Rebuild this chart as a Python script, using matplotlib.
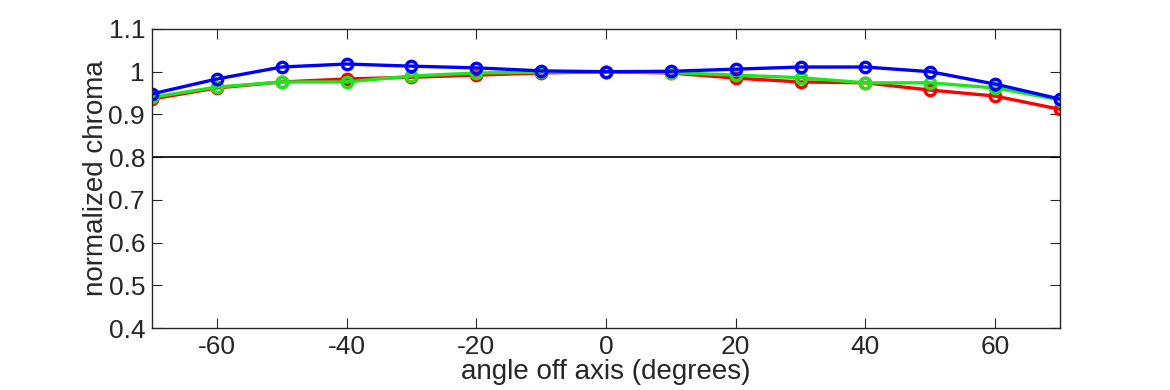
import matplotlib
matplotlib.use("Agg")
import matplotlib.pyplot as plt

angles = [-70, -60, -50, -40, -30, -20, -10, 0, 10, 20, 30, 40, 50, 60, 70]
red = [0.936, 0.962, 0.976, 0.983, 0.987, 0.992, 0.997, 1.0, 0.997, 0.985, 0.976, 0.974, 0.957, 0.943, 0.912]
green = [0.940, 0.964, 0.976, 0.976, 0.990, 0.997, 0.999, 1.0, 0.998, 0.992, 0.986, 0.974, 0.974, 0.962, 0.934]
blue = [0.948, 0.983, 1.011, 1.018, 1.013, 1.009, 1.002, 1.0, 1.001, 1.006, 1.011, 1.011, 1.0, 0.971, 0.936]
xticks = [-60, -40, -20, 0, 20, 40, 60]
xtick_labels = ["-60", "-40", "-20", "0", "20", "40", "60"]
yticks = [0.4, 0.5, 0.6, 0.7, 0.8, 0.9, 1.0, 1.1]
ytick_labels = ["0.4", "0.5", "0.6", "0.7", "0.8", "0.9", "1", "1.1"]

plt.rcParams['font.family'] = ['Liberation Sans', 'DejaVu Sans']
fig = plt.figure(figsize=(11.7, 3.9), dpi=100)
ax = fig.add_axes([152/1170, 1 - 328/390, (1060-152)/1170, (328-29)/390])

ax.axhline(0.8, color='black', linewidth=1.2)
for vals, col in [(red, '#ff0000'), (green, '#1ee61e'), (blue, '#0000ff')]:
    ax.plot(angles, vals, color=col, linewidth=2.4, marker='o', markersize=7.5,
            markerfacecolor='none', markeredgewidth=2.4)

ax.set_xlim(-70, 70)
ax.set_ylim(0.4, 1.1)
ax.set_xticks(xticks)
ax.set_xticklabels(xtick_labels)
ax.set_yticks(yticks)
ax.set_yticklabels(ytick_labels)
ax.tick_params(direction='in', top=True, right=True, labelsize=19, length=7, colors='#262626', pad=5)
for s in ax.spines.values():
    s.set_color('#262626')
    s.set_linewidth(1)
ax.set_xlabel('angle off axis (degrees)', fontsize=20, color='#262626', labelpad=0)
ax.set_ylabel('normalized chroma', fontsize=20, color='#262626')
ax.yaxis.set_label_coords(-0.047, 0.5)

fig.savefig('out.png', dpi=100)
